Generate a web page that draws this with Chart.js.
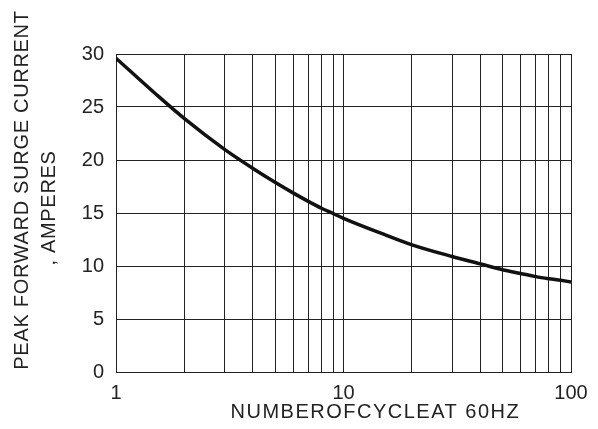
<!DOCTYPE html>
<html>
<head>
<meta charset="utf-8">
<style>
  html, body { margin: 0; padding: 0; background: #fff; }
  #wrap { width: 598px; height: 429px; }
</style>
<script src="https://cdn.jsdelivr.net/npm/chart.js@4/dist/chart.umd.min.js"></script>
</head>
<body>
<div id="wrap"><canvas id="surgeChart"></canvas></div>
<script>
// 사이클 수 (x) 와 서지 전류 (y)
var cycles = [1, 1.5, 2, 3, 4, 5, 6, 7, 8, 9, 10, 15, 20, 30, 40, 50, 60, 70, 80, 90, 100];
var amperes = [29.6, 26.2, 23.9, 21.0, 19.2, 17.9, 16.9, 16.1, 15.45, 14.95, 14.5, 13.0, 12.0, 10.9, 10.2, 9.65, 9.3, 9.0, 8.8, 8.65, 8.5];
var xTicks = [1, 2, 3, 4, 5, 6, 7, 8, 9, 10, 20, 30, 40, 50, 60, 70, 80, 90, 100];
var xLabels = [1, 10, 100];
var yTitle = ['PEAK FORWARD SURGE CURRENT', ', AMPERES'];
var xTitle = 'NUMBEROFCYCLEAT 60HZ';

var points = cycles.map(function (c, i) { return { x: c, y: amperes[i] }; });

// 축 제목 (자간 포함) 직접 그리기
var titlePlugin = {
  id: 'spacedTitles',
  afterDraw: function (chart) {
    var ctx = chart.ctx, area = chart.chartArea;
    ctx.save();
    ctx.fillStyle = '#222';
    ctx.font = '20px "Liberation Sans", Arial, sans-serif';
    ctx.textAlign = 'center';
    ctx.textBaseline = 'middle';
    ctx.letterSpacing = '1.5px';
    ctx.fillText(xTitle, area.left + area.width * 0.57, 412);

    ctx.letterSpacing = '0.7px';
    ctx.translate(22, 190);
    ctx.rotate(-Math.PI / 2);
    ctx.fillText(yTitle[0], 0, 0);
    ctx.fillText(yTitle[1], -18, 27);
    ctx.restore();
  }
};

var ctx = document.getElementById('surgeChart').getContext('2d');
var surgeChart = new Chart(ctx, {
  type: 'line',
  data: {
    datasets: [{
      data: points,
      borderColor: '#111',
      borderWidth: 3.5,
      pointRadius: 0,
      fill: false,
      cubicInterpolationMode: 'monotone'
    }]
  },
  options: {
    responsive: true,
    maintainAspectRatio: false,
    animation: false,
    layout: { padding: { top: 54, right: 27, left: 0, bottom: 0 } },
    plugins: {
      legend: { display: false },
      tooltip: { enabled: false }
    },
    scales: {
      x: {
        type: 'logarithmic',
        min: 1,
        max: 100,
        afterBuildTicks: function (scale) {
          scale.ticks = xTicks.map(function (v) { return { value: v, major: xLabels.indexOf(v) >= 0 }; });
        },
        afterFit: function (scale) { scale.height = 57; },
        ticks: {
          autoSkip: false,
          maxRotation: 0,
          padding: 9,
          color: '#222',
          font: { family: '"Liberation Sans", Arial, sans-serif', size: 20 },
          callback: function (v) { return xLabels.indexOf(v) >= 0 ? String(v) : ''; }
        },
        grid: { color: '#222', lineWidth: 1, drawTicks: false },
        border: { color: '#222', width: 1 }
      },
      y: {
        min: 0,
        max: 30,
        afterFit: function (scale) { scale.width = 116; },
        ticks: {
          stepSize: 5,
          padding: 12,
          color: '#222',
          font: { family: '"Liberation Sans", Arial, sans-serif', size: 20 }
        },
        grid: { color: '#222', lineWidth: 1, drawTicks: false },
        border: { color: '#222', width: 1 }
      }
    }
  },
  plugins: [titlePlugin]
});
</script>
</body>
</html>
